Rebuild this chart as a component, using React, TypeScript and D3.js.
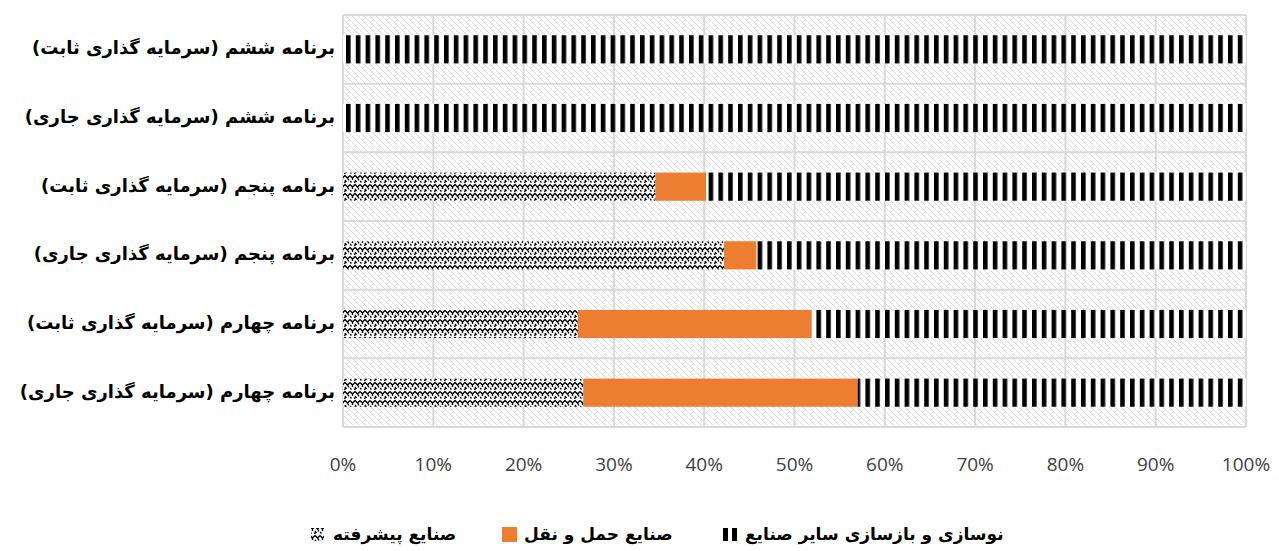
import React from "react";
import * as d3 from "d3";

const categories = [
  "برنامه ششم (سرمایه گذاری ثابت)",
  "برنامه ششم (سرمایه گذاری جاری)",
  "برنامه پنجم (سرمایه گذاری ثابت)",
  "برنامه پنجم (سرمایه گذاری جاری)",
  "برنامه چهارم (سرمایه گذاری ثابت)",
  "برنامه چهارم (سرمایه گذاری جاری)",
];
const advanced = [0, 0, 34.6, 42.2, 26.0, 26.6];
const transport = [0, 0, 5.6, 3.6, 25.9, 30.4];
const renovation = [100, 100, 59.8, 54.2, 48.1, 43.0];
const seriesNames = ["صنایع پیشرفته", "صنایع حمل و نقل", "نوسازی و بازسازی سایر صنایع"];
const ticks = [0, 10, 20, 30, 40, 50, 60, 70, 80, 90, 100];

const W = 1279;
const H = 551;
const m = { left: 343, right: 33, top: 15, bottom: 124 };
const persianFont = "'DejaVu Sans', sans-serif";

const fills = ["url(#zig)", "#ED7D31", "url(#stripes)"];

const App = () => {
  const x = d3.scaleLinear().domain([0, 100]).range([m.left, W - m.right]);
  const y = d3
    .scaleBand()
    .domain(categories)
    .range([m.top, H - m.bottom])
    .paddingInner(0.59)
    .paddingOuter(0.295);
  const band = d3.scaleBand().domain(categories).range([m.top, H - m.bottom]);

  const rows = categories.map((c, i) => ({
    cat: c,
    a: advanced[i],
    t: transport[i],
    r: renovation[i],
  }));
  const stacked = d3.stack<any>().keys(["a", "t", "r"])(rows);

  // legend: icon left of its text
  const legendIcon = [311, 502, 723];

  return (
    <svg
      width={W}
      height={H}
      style={{ position: "absolute", left: 0, top: 0, background: "#fff" }}
    >
      <defs>
        <pattern id="bgHatch" width="6" height="6" patternUnits="userSpaceOnUse">
          <rect width="6" height="6" fill="#fff" />
          <path d="M-1,-1 L7,7 M-4,2 L2,8 M4,-2 L10,4" stroke="#dcdcdc" strokeWidth="1" />
        </pattern>
        <pattern id="stripes" width="9.8" height="10" patternUnits="userSpaceOnUse" x={m.left + 3}>
          <rect width="9.8" height="10" fill="#fff" />
          <rect width="4.6" height="10" fill="#000" />
        </pattern>
        <pattern id="zig" width="10" height="9" patternUnits="userSpaceOnUse" y={3}>
          <rect width="10" height="9" fill="#fff" />
          <path
            d="M0,1.5 L2.5,4 L5,1.5 L7.5,4 L10,1.5 M2.5,4 L2.5,6 M7.5,4 L9,6.5 M0,7 L1.5,8.5 M5,6 L6,7.5 L4,8.5"
            stroke="#000"
            strokeWidth="1.4"
            fill="none"
          />
        </pattern>
      </defs>

      {/* plot background */}
      <rect
        x={m.left}
        y={m.top}
        width={x(100) - x(0)}
        height={H - m.bottom - m.top}
        fill="url(#bgHatch)"
      />
      {/* gridlines */}
      {ticks.map((t) => (
        <line
          key={"v" + t}
          x1={x(t)}
          x2={x(t)}
          y1={m.top}
          y2={H - m.bottom}
          stroke="#d9d9d9"
          strokeWidth={2}
        />
      ))}
      {categories.map((c) => (
        <line
          key={"h" + c}
          x1={x(0)}
          x2={x(100)}
          y1={band(c)}
          y2={band(c)}
          stroke="#d9d9d9"
          strokeWidth={2}
        />
      ))}
      <line x1={x(0)} x2={x(100)} y1={H - m.bottom} y2={H - m.bottom} stroke="#d9d9d9" strokeWidth={2} />

      {/* bars */}
      {stacked.map((s, si) => (
        <g key={s.key} fill={fills[si]}>
          {s.map((d, i) =>
            d[1] - d[0] > 0 ? (
              <rect
                key={i}
                x={x(d[0])}
                y={y(categories[i])}
                width={x(d[1]) - x(d[0])}
                height={y.bandwidth()}
              />
            ) : null
          )}
        </g>
      ))}

      {/* category labels */}
      {categories.map((c) => (
        <text
          key={"l" + c}
          x={335}
          y={(y(c) as number) + y.bandwidth() / 2}
          direction="rtl"
          textAnchor="start"
          dominantBaseline="middle"
          fontFamily={persianFont}
          fontSize={18}
          fontWeight="bold"
          fill="#000"
        >
          {c}
        </text>
      ))}

      {/* x tick labels */}
      {ticks.map((t) => (
        <text
          key={"t" + t}
          x={x(t)}
          y={471}
          textAnchor="middle"
          fontFamily="'Open Sans', sans-serif"
          fontSize={19}
          fill="#404040"
        >
          {t + "%"}
        </text>
      ))}

      {/* legend */}
      {legendIcon.map((ix, i) => (
        <g key={"lg" + i}>
          {i === 0 && <rect x={ix} y={528} width={13} height={13} fill="url(#zig)" />}
          {i === 1 && <rect x={ix} y={527} width={15} height={15} fill="#ED7D31" />}
          {i === 2 && (
            <g fill="#000">
              <rect x={ix} y={528} width={5} height={13} />
              <rect x={ix + 9} y={528} width={5} height={13} />
            </g>
          )}
          <text
            x={ix + 22}
            y={535}
            direction="rtl"
            textAnchor="end"
            dominantBaseline="middle"
            fontFamily={persianFont}
            fontSize={17}
            fontWeight="bold"
            fill="#000"
          >
            {seriesNames[i]}
          </text>
        </g>
      ))}
    </svg>
  );
};

export default App;
